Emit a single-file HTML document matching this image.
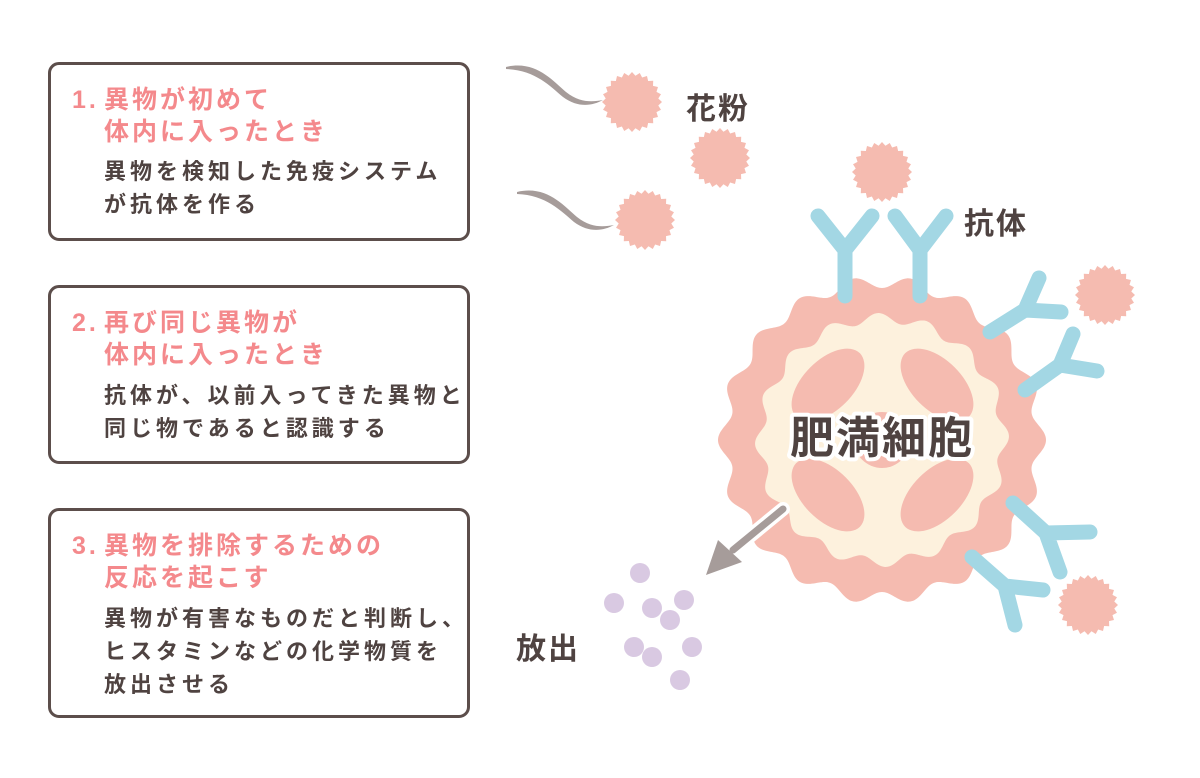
<!DOCTYPE html>
<html><head><meta charset="utf-8"><style>
body{margin:0;background:#fff;width:1200px;height:778px;overflow:hidden;position:relative;font-family:"Liberation Sans","Noto Sans CJK JP",sans-serif}
.box{position:absolute;left:48px;width:422px;border:3px solid #5c4e4b;border-radius:11px;box-sizing:border-box}
.t{position:absolute;white-space:nowrap}
.h{color:#f4898c;font-size:25px;font-weight:bold;letter-spacing:3px;line-height:32px}
.b{color:#4f4341;font-size:22px;font-weight:bold;letter-spacing:4px;line-height:33px}
.lbl{color:#4f4341;font-size:30px;font-weight:bold;letter-spacing:2px}
</style></head><body>
<div class="box" style="top:62px;height:179px"></div>
<div class="box" style="top:285px;height:179px"></div>
<div class="box" style="top:508px;height:210px"></div>
<div class="t h" style="left:72px;top:84px">1. </div><div class="t h" style="left:104px;top:84px">異物が初めて<br>体内に入ったとき</div>
<div class="t b" style="left:104px;top:155px">異物を検知した免疫システム<br>が抗体を作る</div>
<div class="t h" style="left:72px;top:307px">2. </div><div class="t h" style="left:104px;top:307px">再び同じ異物が<br>体内に入ったとき</div>
<div class="t b" style="left:104px;top:379px">抗体が、以前入ってきた異物と<br>同じ物であると認識する</div>
<div class="t h" style="left:72px;top:530px">3. </div><div class="t h" style="left:104px;top:530px">異物を排除するための<br>反応を起こす</div>
<div class="t b" style="left:104px;top:602px">異物が有害なものだと判断し、<br>ヒスタミンなどの化学物質を<br>放出させる</div>

<svg width="1200" height="778" style="position:absolute;left:0;top:0">
<defs>
<g id="p"><circle cx="0" cy="0" r="25" fill="#f5bbb0"/><path id="spk" d="" fill="#f5bbb0"/></g>
</defs>
<g fill="#a69c9a">
<path d="M506 67 C535 60 552 80 566 92 C580 103 592 102 603 100 C592 106 578 108 563 97 C550 86 535 70 506 69Z"/>
<path d="M517 192 C546 185 563 205 577 217 C591 228 603 227 614 225 C603 231 589 233 574 222 C561 211 546 195 517 194Z"/>
</g>
<use href="#p" x="632" y="102"/><use href="#p" x="720" y="158"/><use href="#p" x="645" y="220"/><use href="#p" x="882" y="172"/><use href="#p" x="1105" y="295"/><use href="#p" x="1088" y="605"/>
<!-- cell -->
<path id="outer" d="" fill="#f5bbb0"/>
<path id="inner" d="" fill="#fdf1dd"/>
<g fill="#f5bbb0">
<ellipse cx="828" cy="385" rx="25" ry="45" transform="rotate(45 828 385)"/>
<ellipse cx="937" cy="385" rx="25" ry="45" transform="rotate(-45 937 385)"/>
<ellipse cx="828" cy="495" rx="25" ry="45" transform="rotate(-45 828 495)"/>
<ellipse cx="937" cy="495" rx="25" ry="45" transform="rotate(45 937 495)"/>
<circle cx="882" cy="440" r="28"/>
</g>
<g fill="none" stroke="#a3d7e4" stroke-width="15" stroke-linecap="round" stroke-linejoin="round">
<path d="M818 216 L845 250 L845 296 M872 216 L845 250"/>
<path d="M895 216 L920 250 L920 296 M946 216 L920 250"/>
<path d="M990 332 L1025 310 L1039 278 M1025 310 L1061 312"/>
<path d="M1025 390 L1060 365 L1073 334 M1060 365 L1097 371"/>
<path d="M1013 503 L1046 533 L1090 532 M1046 533 L1060 572"/>
<path d="M972 557 L1005 586 L1043 590 M1005 586 L1015 625"/>
</g>
<g>
<line x1="783" y1="509" x2="733" y2="550" stroke="#fff" stroke-width="14" stroke-linecap="round"/>
<line x1="783" y1="509" x2="733" y2="550" stroke="#a69c9a" stroke-width="7" stroke-linecap="round"/>
<polygon points="706,575 718,540 742,562" fill="#a69c9a"/>
</g>
<g fill="#d9c9e2">
<circle cx="640" cy="573" r="10"/><circle cx="614" cy="603" r="10"/><circle cx="652" cy="608" r="10"/><circle cx="684" cy="600" r="10"/><circle cx="670" cy="620" r="10"/><circle cx="634" cy="647" r="10"/><circle cx="652" cy="657" r="10"/><circle cx="692" cy="647" r="10"/><circle cx="680" cy="680" r="10"/>
</g>
<text x="882" y="453" text-anchor="middle" font-size="44" font-weight="bold" fill="#4f4341" stroke="#fff" stroke-width="8" stroke-linejoin="round" paint-order="stroke" letter-spacing="2" font-family="Liberation Sans, Noto Sans CJK JP, sans-serif">肥満細胞</text>
</svg>
<div class="t lbl" style="left:686px;top:84px">花粉</div>
<div class="t lbl" style="left:964px;top:199px">抗体</div>
<div class="t lbl" style="left:516px;top:624px">放出</div>
<script>
function wave(cx,cy,r,a,n,ph){var d="";for(var i=0;i<=720;i++){var t=i/720*2*Math.PI;var rr=r+a*Math.cos(n*t+ph);d+=(i?"L":"M")+(cx+rr*Math.cos(t)).toFixed(2)+" "+(cy+rr*Math.sin(t)).toFixed(2);}return d+"Z";}
function spikes(r1,r2,n){var d="";for(var i=0;i<2*n;i++){var t=i/(2*n)*2*Math.PI;var rr=i%2?r1:r2;d+=(i?"L":"M")+(rr*Math.cos(t)).toFixed(2)+" "+(rr*Math.sin(t)).toFixed(2);}return d+"Z";}
document.getElementById("outer").setAttribute("d",wave(882,440,158,6,18,0));
document.getElementById("inner").setAttribute("d",wave(882,440,122,5,16,0.5));
document.getElementById("spk").setAttribute("d",spikes(26.5,30,24));
</script>
</body></html>
